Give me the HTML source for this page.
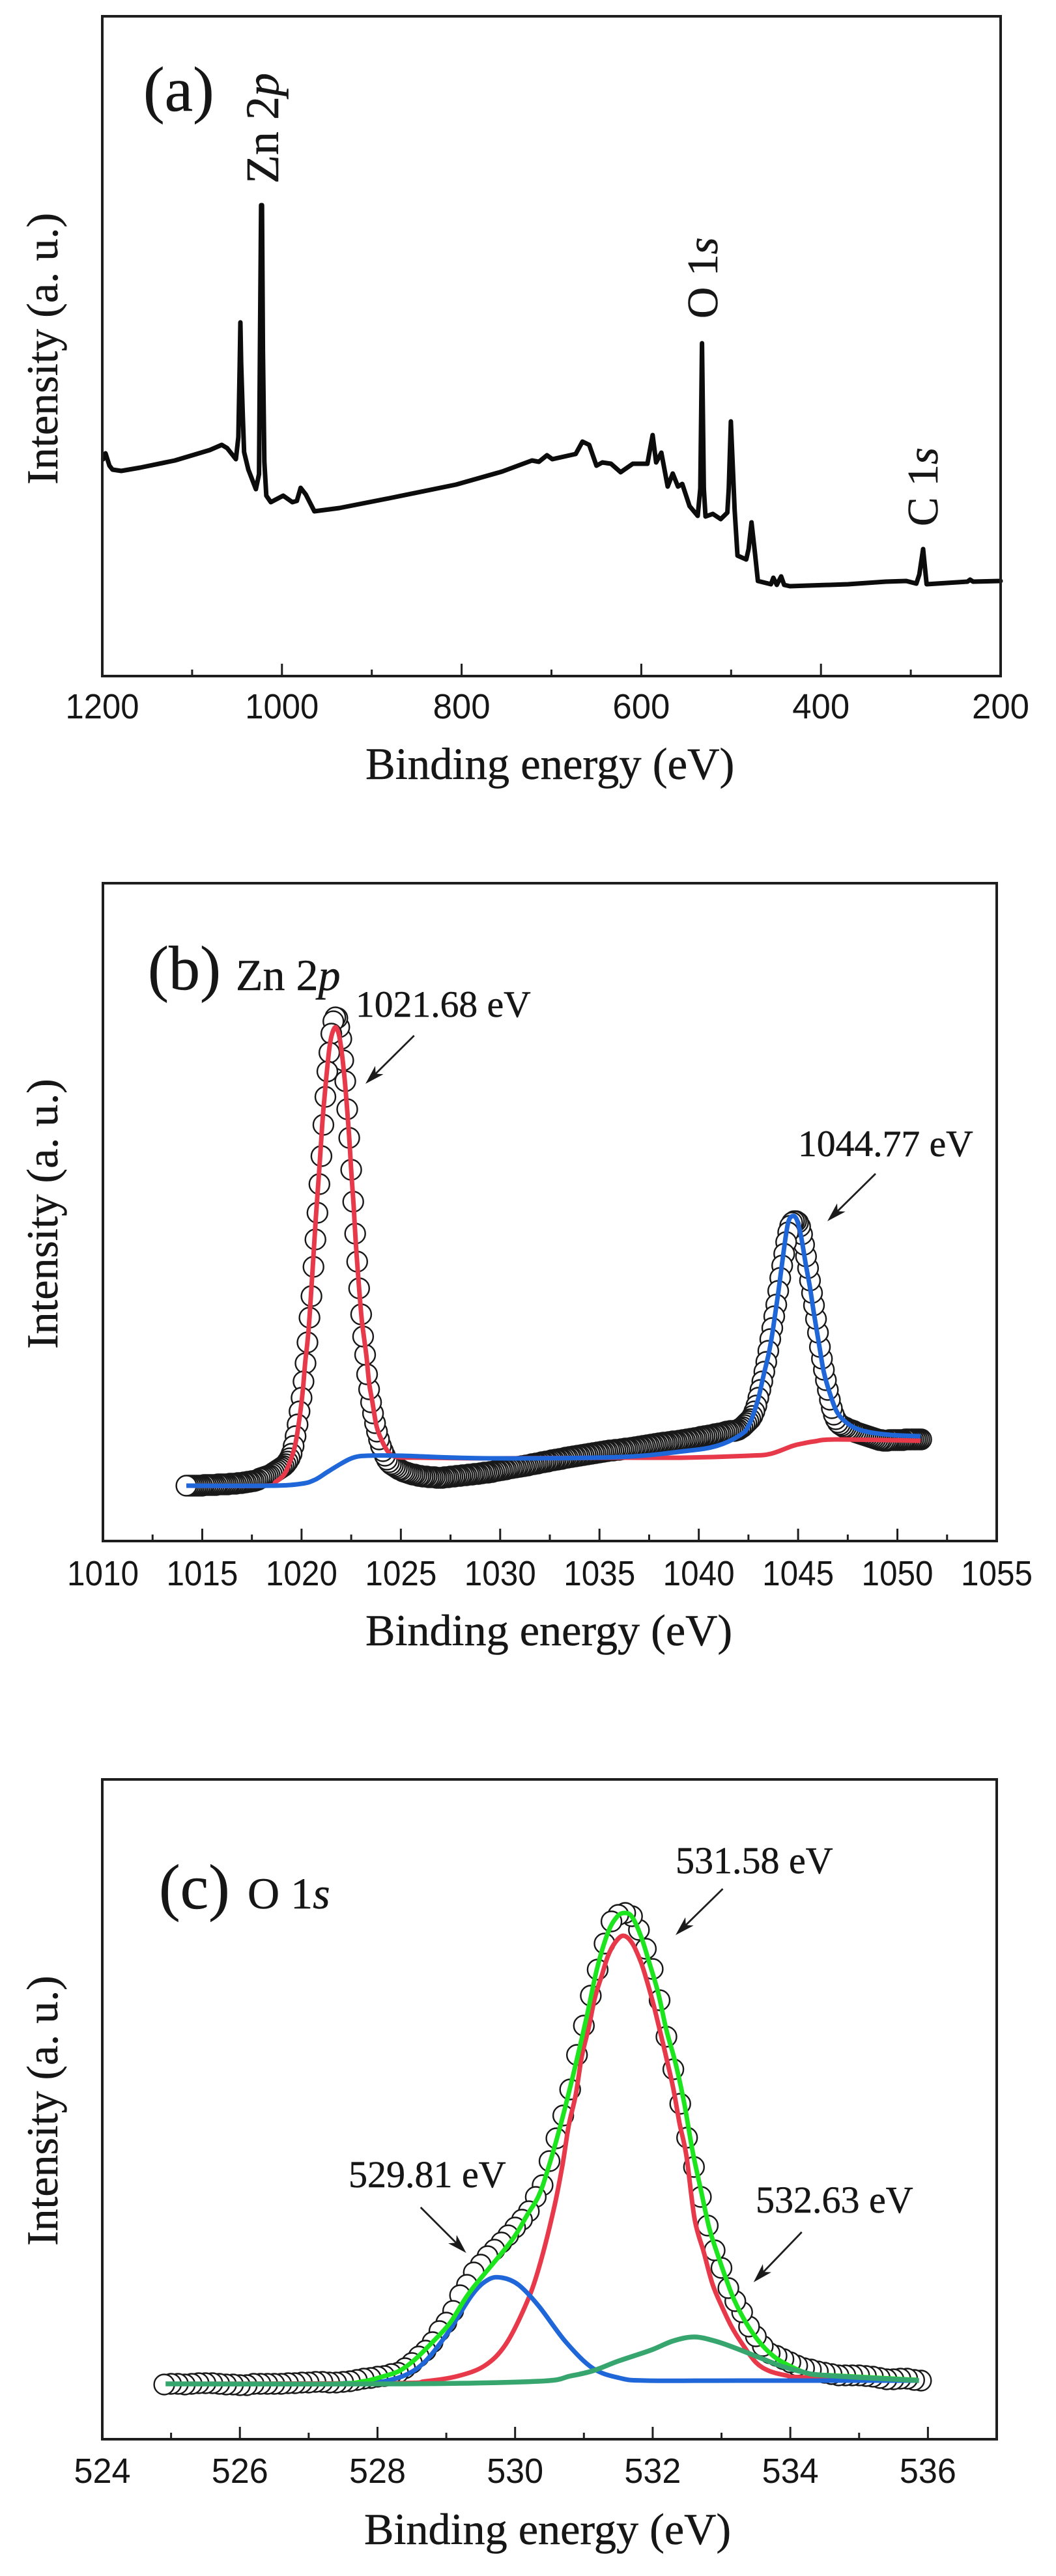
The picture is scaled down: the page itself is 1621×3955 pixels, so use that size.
<!DOCTYPE html>
<html lang="en">
<head>
<meta charset="utf-8">
<title>XPS spectra: survey, Zn 2p and O 1s</title>
<style>
html,body{margin:0;padding:0;background:#fff;}
svg{display:block;}
.serif{font-family:"Liberation Serif",serif;fill:#161616;stroke:#161616;stroke-width:.5;}
.sans{font-family:"Liberation Sans",sans-serif;fill:#161616;}
</style>
</head>
<body>
<svg id="chart" xmlns="http://www.w3.org/2000/svg" width="1621" height="3955" viewBox="0 0 1621 3955">
  <rect x="0" y="0" width="1621" height="3955" fill="#fff"/>
  <g id="panel-a"></g>
  <g id="panel-b"></g>
  <g id="panel-c"></g>

  <text class="serif" x="220" y="170" font-size="98">(a)</text>
  <text class="serif" transform="translate(427 282) rotate(-90)" font-size="72">Zn 2<tspan font-style="italic">p</tspan></text>
  <text class="serif" transform="translate(1101 489) rotate(-90)" font-size="67">O 1<tspan font-style="italic">s</tspan></text>
  <text class="serif" transform="translate(1439 808) rotate(-90)" font-size="67">C 1<tspan font-style="italic">s</tspan></text>
  <text class="serif" x="561" y="1196" font-size="68.6">Binding energy (eV)</text>
  <text class="serif" transform="translate(88 744) rotate(-90)" font-size="68.3">Intensity (a. u.)</text>

  <text class="serif" x="227" y="1519" font-size="96">(b)</text>
  <text class="serif" x="362" y="1520" font-size="68">Zn 2<tspan font-style="italic">p</tspan></text>
  <text class="serif" x="546" y="1561" font-size="57.6">1021.68 eV</text>
  <text class="serif" x="1225" y="1775" font-size="57.6">1044.77 eV</text>
  <text class="serif" x="561" y="2526" font-size="68.2">Binding energy (eV)</text>
  <text class="serif" transform="translate(88 2071) rotate(-90)" font-size="67.9">Intensity (a. u.)</text>

  <text class="serif" x="244" y="2930" font-size="98">(c)</text>
  <text class="serif" x="380" y="2930" font-size="68">O 1<tspan font-style="italic">s</tspan></text>
  <text class="serif" x="1037" y="2876" font-size="58">531.58 eV</text>
  <text class="serif" x="535" y="3358" font-size="58">529.81 eV</text>
  <text class="serif" x="1160" y="3397" font-size="58">532.63 eV</text>
  <text class="serif" x="559" y="3906" font-size="68.2">Binding energy (eV)</text>
  <text class="serif" transform="translate(88 3448) rotate(-90)" font-size="67.9">Intensity (a. u.)</text>
</svg>
<script>
// ---------- Panel (a): survey spectrum ----------
const surveyEnergy = [1199,1196.4,1192,1188.6,1178.9,1158,1119.2,1080.4,1067,1061,1051.3,1048.5,1047,1046.3,1045.4,1043.6,1042.1,1037.4,1029,1025.5,1024.5,1023.2,1022.2,1021.2,1019.6,1017.4,1012.4,998.6,988.4,983.4,979.2,973.5,963.9,936.1,880.7,806.2,755,721.7,714,705,699,673,665.5,658,649.9,643.4,633.7,623,609.4,593.2,587.4,583.5,577.7,570.6,565,559.2,554.4,546.3,537.2,534.3,532.4,530.4,528.5,520.4,511.6,504.2,502.6,500.3,496.1,492.9,483.2,480.6,477.3,473.4,470.2,455.6,453,449.2,444.3,441,434.6,369.8,327.8,305,293.8,290.5,286.3,282.4,237,234,230.6,200];
const surveyIntensity = [333,342,323,317,315,320,331,347,355,350,333,367,480,543,480,400,344,317,287,310,500,723,723,500,329,277,267,277,267,269,289,279,253,258,273,294,314,331,329,339,333,341,360,355,323,328,326,313,326,326,370,328,343,291,311,291,295,261,246,288,511,288,245,249,241,251,288,391,255,185,179,195,236,188,146,141,151,140,153,140,138,141,145,146,142,156,195,141,145,148,145,146];
const surveyXMajor = [1200,1000,800,600,400,200];
const surveyXMinor = [1100,900,700,500,300];
const surveyXLabels = ["1200","1000","800","600","400","200"];

// ---------- Panel (b): Zn 2p ----------
const zn2pScanStart = [1014.2];
const zn2pScanStep = [0.1];
const zn2pMeasured = [
85,85,85,85,85,85,85,85,85,86,
86,86,86,86,86,86,87,87,87,87,
87,87,88,88,88,88,89,89,89,90,
90,91,91,92,92,93,94,96,97,98,
99,100,101,103,105,107,109,111,113,115,
118,122,127,134,146,161,179,199,220,245,
273,305,343,376,421,463,504,548,591,639,
682,721,750,779,798,804,803,789,771,738,
706,663,619,570,521,472,429,388,348,314,
286,256,233,213,196,181,168,156,146,138,
131,125,121,118,116,114,112,110,109,107,
106,105,104,103,102,102,101,100,100,99,
99,99,98,98,98,98,97,97,97,97,
98,98,98,99,99,99,100,100,100,101,
101,101,102,102,102,103,103,103,104,104,
105,105,105,106,106,107,108,108,109,109,
110,110,111,112,112,113,113,114,114,115,
115,116,116,117,118,118,119,119,120,121,
121,122,122,123,124,124,125,125,126,126,
127,128,128,129,129,130,130,131,131,132,
132,133,133,134,134,135,135,136,136,137,
137,138,138,139,139,139,140,140,140,141,
141,142,142,142,143,143,144,144,145,145,
146,146,147,147,148,148,149,149,150,150,
151,151,151,152,152,153,153,153,154,154,
155,155,156,156,157,157,158,158,159,160,
160,161,161,162,162,163,164,164,165,165,
166,167,168,168,169,169,169,170,171,173,
175,178,181,184,187,192,199,208,220,232,
245,260,275,292,310,327,345,363,384,404,
423,441,459,474,484,489,491,491,489,483,
471,455,437,419,400,381,362,341,320,298,
280,263,247,232,217,204,194,187,182,179,
177,175,174,172,171,170,169,167,166,165,
164,163,162,161,160,159,158,157,156,155,
155,154,154,154,155,155,155,155,155,155,
155,155,156,156,156,156,156,156,156,156,156];
const zn2pRedEnergy = [1014.2,1018.2,1018.7,1019.14,1019.47,1019.69,1019.9,1020.07,1020.18,1020.3,1020.4,1020.56,1020.72,1020.89,1021.05,1021.16,1021.27,1021.41,1021.54,1021.71,1021.87,1022,1022.14,1022.28,1022.4,1022.5,1022.62,1022.73,1022.86,1023.02,1023.13,1023.27,1023.4,1023.57,1023.78,1024.06,1024.39,1024.82,1026,1030,1035.98,1039.26,1042.54,1043.63,1044.72,1045.27,1045.82,1046.91,1051.17];
const zn2pRedIntensity = [85,85,91,103,126,149,189,233,273,306,343,419,496,569,643,683,719,759,779,789,779,756,719,669,619,569,516,459,403,343,316,283,243,213,176,153,136,129,128,127,128,128,131,134,146,150,153,156,154];
const zn2pBlueEnergy = [1014.2,1018.48,1020,1020.67,1021.3,1022,1022.6,1023.3,1025.04,1029.4,1035.98,1039.26,1040.9,1042.1,1042.54,1042.97,1043.25,1043.53,1043.74,1044.01,1044.29,1044.5,1044.72,1044.94,1045.16,1045.38,1045.6,1045.8,1046.05,1046.3,1046.64,1047,1047.56,1048.3,1049.64,1051.17];
const zn2pBlueIntensity = [85,85,88,94,106,119,128,131,131,127,129,138,146,163,179,216,253,289,326,383,449,489,499,493,466,426,389,349,303,259,223,196,179,169,163,161];
const zn2pXMajor = [1010,1015,1020,1025,1030,1035,1040,1045,1050,1055];
const zn2pXMinor = [1012.5,1017.5,1022.5,1027.5,1032.5,1037.5,1042.5,1047.5,1052.5];
const zn2pXLabels = ["1010","1015","1020","1025","1030","1035","1040","1045","1050","1055"];

// ---------- Panel (c): O 1s ----------
const o1sScanStart = [524.9];
const o1sScanStep = [0.1];
const o1sMeasured = [
84,85,85,84,85,86,86,86,85,84,84,
83,83,85,85,85,85,85,86,86,87,
87,88,88,87,87,88,89,91,93,94,
96,97,100,102,109,117,127,136,149,166,
179,197,221,237,256,268,281,291,302,313,
325,337,350,372,390,427,462,497,537,590,
635,681,721,761,795,805,808,803,782,753,
722,674,618,568,515,463,418,372,328,290,
263,232,212,195,173,158,143,132,128,123,
118,113,109,107,104,102,100,98,98,98,
98,97,96,94,92,92,93,93,91,90];
const o1sFitEnergy = [524.95,527.3,527.8,528.1,528.32,528.54,528.79,529.05,529.27,529.43,529.95,530.18,530.34,530.47,530.66,530.85,531.04,531.19,531.35,531.48,531.59,531.7,531.83,531.95,532.08,532.2,532.33,532.46,532.58,532.71,532.82,532.93,533.06,533.18,533.34,533.53,533.75,534,534.29,534.6,535.85];
const o1sFitIntensity = [85,85,89,97,105,122,148,178,215,238,305,345,373,412,482,562,648,722,778,802,808,802,772,732,685,628,578,515,442,378,325,288,248,215,182,152,128,112,100,98,91].slice(0,41);
const o1sRedEnergy = [524.95,528.19,528.7,529.17,529.56,529.86,530.15,530.34,530.56,530.69,530.78,530.88,530.97,531.07,531.16,531.26,531.35,531.45,531.57,531.7,531.83,531.92,532.01,532.11,532.2,532.3,532.39,532.49,532.61,532.74,532.87,533,533.15,533.31,533.5,533.69,533.94,534.2,535.85];
const o1sRedIntensity = [85,86,89,97,113,145,205,261,352,422,482,528,588,632,678,712,742,762,773,762,732,702,668,625,585,538,485,435,338,288,238,205,172,145,118,105,98,95,91];
const o1sBlueEnergy = [527.5,528.1,528.58,528.98,529.37,529.61,529.81,530.05,530.34,530.74,531.13,531.52,531.91,533.28,535.85];
const o1sBlueIntensity = [86,89,109,157,221,245,248,237,205,149,109,94,90,90,90];
const o1sDarkGreenEnergy = [524.92,528.39,530.34,530.8,531.13,531.5,531.98,532.3,532.61,532.93,533.25,533.56,533.88,534.19,534.51,535.87];
const o1sDarkGreenIntensity = [85,85,89,97,105,120,137,151,157,150,138,125,112,103,98,90];
const o1sXMajor = [524,526,528,530,532,534,536];
const o1sXMinor = [525,527,529,531,533,535];
const o1sXLabels = ["524","526","528","530","532","534","536"];

// ---------- helpers ----------
const NS = "http://www.w3.org/2000/svg";
function make(parent, tag, attrs) {
  const el = document.createElementNS(NS, tag);
  for (const k in attrs) el.setAttribute(k, attrs[k]);
  parent.appendChild(el);
  return el;
}
function scale(d0, d1, r0, r1) {
  return v => r0 + (v - d0) / (d1 - d0) * (r1 - r0);
}
function drawFrame(group, x0, x1, yTop, yBot) {
  const el = make(group, "rect", {x: x0, y: yTop, width: x1 - x0, height: yBot - yTop, fill: "none", stroke: "#1e1e1e", "stroke-width": 4});
  
  
}
function drawTicks(group, xs, major, minor, labels, yBot, baseline, fontSize, widths) {
  major.forEach((v, i) => {
    const t = make(group, "line", {x1: xs(v), x2: xs(v), y1: yBot, y2: yBot - 19, stroke: "#1e1e1e", "stroke-width": 3});
    
    
    const s = labels[i];
    const lab = make(group, "text", {x: xs(v), y: baseline, "text-anchor": "middle", "font-size": fontSize, "class": "sans", textLength: widths[s.length], lengthAdjust: "spacingAndGlyphs"});
    lab.textContent = s;
    
    
  });
  minor.forEach(v => {
    const t = make(group, "line", {x1: xs(v), x2: xs(v), y1: yBot, y2: yBot - 10, stroke: "#1e1e1e", "stroke-width": 3});
    
    
  });
}
function drawSpectrum(group, xs, ys, energy, intensity, color, width, name) {
  const pts = energy.map((e, i) => xs(e).toFixed(1) + "," + ys(intensity[i]).toFixed(1)).join(" ");
  const el = make(group, "polyline", {points: pts, fill: "none", stroke: color, "stroke-width": width, "stroke-linejoin": "round", "stroke-linecap": "round"});
  
  
}
// smooth fit curve: Catmull-Rom through the read points
function drawCurve(group, xs, ys, energy, intensity, color, width, name) {
  const p = energy.map((e, i) => [xs(e), ys(intensity[i])]);
  let d = "M" + p[0][0].toFixed(1) + " " + p[0][1].toFixed(1);
  for (let i = 0; i < p.length - 1; i++) {
    const a = p[Math.max(i - 1, 0)], b = p[i], c = p[i + 1], e = p[Math.min(i + 2, p.length - 1)];
    const c1x = b[0] + (c[0] - a[0]) / 6, c1y = b[1] + (c[1] - a[1]) / 6;
    const c2x = c[0] - (e[0] - b[0]) / 6, c2y = c[1] - (e[1] - b[1]) / 6;
    d += "C" + c1x.toFixed(1) + " " + c1y.toFixed(1) + " " + c2x.toFixed(1) + " " + c2y.toFixed(1) + " " + c[0].toFixed(1) + " " + c[1].toFixed(1);
  }
  const el = make(group, "path", {d: d, fill: "none", stroke: color, "stroke-width": width, "stroke-linejoin": "round"});
  
  
}
function drawScatter(group, xs, ys, start, step, values, name) {
  // earlier points sit on top of later ones, so draw from the end of the scan
  for (let i = values.length - 1; i >= 0; i--) {
    const c = make(group, "circle", {cx: xs(start + step * i).toFixed(1), cy: ys(values[i]).toFixed(1), r: 15.5, fill: "#fff", stroke: "#181818", "stroke-width": 2.4});
    
    
  }
}
function drawArrow(group, x1, y1, x2, y2, name) {
  const a = Math.atan2(y2 - y1, x2 - x1), L = 30, W = 9, N = 22;
  const ux = Math.cos(a), uy = Math.sin(a);
  const head = [[x2, y2], [x2 - L * ux - W * uy, y2 - L * uy + W * ux], [x2 - N * ux, y2 - N * uy], [x2 - L * ux + W * uy, y2 - L * uy - W * ux]];
  const g = make(group, "g", {});
  
  
  make(g, "line", {x1: x1, y1: y1, x2: x2 - N * ux, y2: y2 - N * uy, stroke: "#1e1e1e", "stroke-width": 2.8});
  make(g, "polygon", {points: head.map(p => p[0].toFixed(1) + "," + p[1].toFixed(1)).join(" "), fill: "#1a1a1a"});
}

// ---------- panel (a) ----------
(function () {
  const g = document.getElementById("panel-a");
  const xs = scale(1200, 200, 157, 1536), ys = scale(0, 1013, 1038, 25);
  drawSpectrum(g, xs, ys, surveyEnergy, surveyIntensity, "#0c0c0c", 7, "survey-spectrum-line");
  drawFrame(g, 157, 1536, 25, 1038);
  drawTicks(g, xs, surveyXMajor, surveyXMinor, surveyXLabels, 1038, 1103, 54, {3: 88, 4: 113});
})();

// ---------- panel (b) ----------
(function () {
  const g = document.getElementById("panel-b");
  const xs = scale(1010, 1055, 158, 1530), ys = scale(0, 1010, 2366, 1356);
  drawScatter(g, xs, ys, zn2pScanStart[0], zn2pScanStep[0], zn2pMeasured, "zn2p-data-point");
  drawCurve(g, xs, ys, zn2pRedEnergy, zn2pRedIntensity, "#e8394a", 7, "zn2p-3-2-fit-line");
  drawCurve(g, xs, ys, zn2pBlueEnergy, zn2pBlueIntensity, "#1f66d8", 7, "zn2p-1-2-fit-line");
  drawFrame(g, 158, 1530, 1356, 2366);
  drawTicks(g, xs, zn2pXMajor, zn2pXMinor, zn2pXLabels, 2366, 2434, 54, {4: 110});
  drawArrow(g, 635.7, 1590, 561, 1664, "peak-1021-arrow");
  drawArrow(g, 1344, 1802, 1270, 1875, "peak-1044-arrow");
})();

// ---------- panel (c) ----------
(function () {
  const g = document.getElementById("panel-c");
  const xs = scale(524, 537, 157, 1530), ys = scale(0, 1013, 3745, 2732);
  drawScatter(g, xs, ys, o1sScanStart[0], o1sScanStep[0], o1sMeasured, "o1s-data-point");
  drawCurve(g, xs, ys, o1sRedEnergy, o1sRedIntensity, "#e8394a", 7, "o1s-main-fit-line");
  drawCurve(g, xs, ys, o1sBlueEnergy, o1sBlueIntensity, "#1f66d8", 7, "o1s-low-energy-fit-line");
  drawCurve(g, xs, ys, o1sFitEnergy, o1sFitIntensity, "#1de51d", 7, "o1s-envelope-line");
  drawCurve(g, xs, ys, o1sDarkGreenEnergy, o1sDarkGreenIntensity, "#36a56e", 7.5, "o1s-high-energy-fit-line");
  drawFrame(g, 157, 1530, 2732, 3745);
  drawTicks(g, xs, o1sXMajor, o1sXMinor, o1sXLabels, 3745, 3812, 54, {3: 87});
  drawArrow(g, 1109.5, 2900, 1037, 2971, "peak-531-arrow");
  drawArrow(g, 645.7, 3389, 715.7, 3459, "peak-529-arrow");
  drawArrow(g, 1230.7, 3427, 1156.7, 3504, "peak-532-arrow");
})();
</script>
</body>
</html>
